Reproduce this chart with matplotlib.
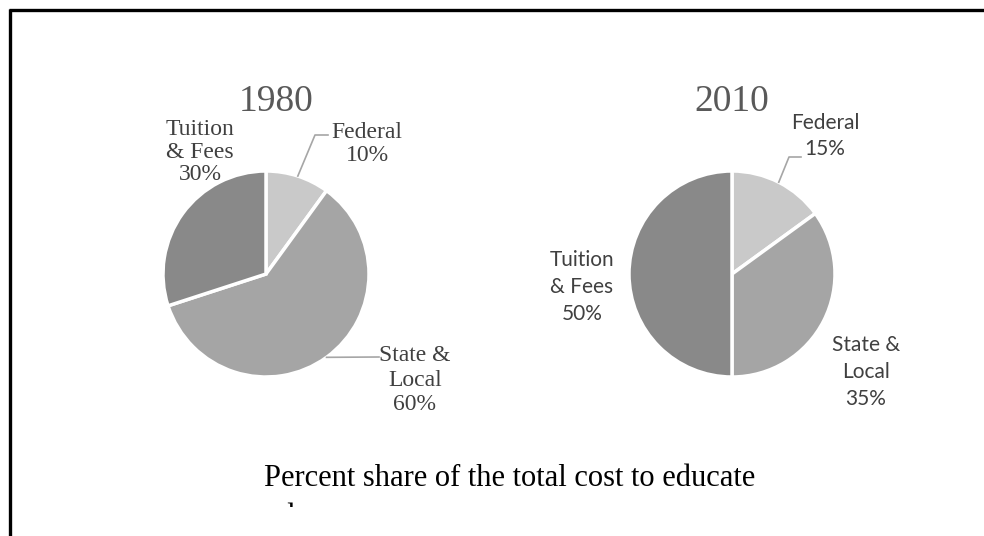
import matplotlib
matplotlib.use("Agg")
import matplotlib.pyplot as plt
import numpy as np
from matplotlib.transforms import Bbox, TransformedBbox

W, H = 984, 536

# ---- data -------------------------------------------------------------
years = ["1980", "2010"]
categories = ["Federal", "State &\nLocal", "Tuition\n& Fees"]
shares_1980 = [10, 60, 30]
shares_2010 = [15, 35, 50]
slice_colors = ["#c9c9c9", "#a5a5a5", "#898989"]
caption = "Percent share of the total cost to educate"
caption_line2 = "students"

fig = plt.figure(figsize=(W / 100, H / 100), dpi=100)
ax = fig.add_axes([0, 0, 1, 1])


def py(y):
    """Convert a top-down pixel row into the axes' bottom-up coordinate."""
    return H - y


# frame (only the top and left edges fall inside the canvas)
ax.plot([9, W + 5], [py(10), py(10)], color="black", lw=2.4, solid_capstyle="butt")
ax.plot([10, 10], [py(9), -5], color="black", lw=2.4, solid_capstyle="butt")

R = 103
centers = [(266, 274), (732, 274)]
all_shares = [shares_1980, shares_2010]

for (cx, cy), shares in zip(centers, all_shares):
    ax.pie(shares, startangle=90, counterclock=False, center=(cx, py(cy)),
           radius=R, colors=slice_colors,
           wedgeprops=dict(edgecolor="white", linewidth=2.5))


def mid_edge(cx, cy, shares, i):
    """Point on the rim at the middle of slice i (pixel rows, top-down)."""
    before = sum(shares[:i])
    ang = np.deg2rad(90 - 3.6 * (before + shares[i] / 2))
    return cx + R * np.cos(ang), cy - R * np.sin(ang)


leader_col = "#a6a6a6"
serif = ["Liberation Serif", "DejaVu Serif"]
sans = ["Lato", "DejaVu Sans"]
lab_col = "#404040"

ax.text(276, py(102), years[0], ha="center", va="center", fontsize=27,
        family=serif, color="#595959")
ax.text(732, py(102), years[1], ha="center", va="center", fontsize=27,
        family=serif, color="#595959")

# ---- 1980 (serif labels) ---------------------------------------------
cx, cy = centers[0]
fx, fy = mid_edge(cx, cy, shares_1980, 0)
ax.plot([fx, 315, 328], [py(fy), py(135), py(135)], color=leader_col, lw=1.2)
ax.text(367, py(144), f"{categories[0]}\n{shares_1980[0]}%", ha="center",
        va="center", fontsize=17, family=serif, color=lab_col, linespacing=1.1)

sx, sy = mid_edge(cx, cy, shares_1980, 1)
ax.plot([sx, 379], [py(sy), py(357)], color=leader_col, lw=1.2)
ax.text(415, py(380), f"{categories[1]}\n{shares_1980[1]}%", ha="center",
        va="center", fontsize=17, family=serif, color=lab_col, linespacing=1.2)

ax.text(200, py(152), f"{categories[2]}\n{shares_1980[2]}%", ha="center",
        va="center", fontsize=17, family=serif, color=lab_col, linespacing=1.1)

# ---- 2010 (sans labels) ------------------------------------------------
cx, cy = centers[1]
fx, fy = mid_edge(cx, cy, shares_2010, 0)
ax.plot([fx, 789, 801], [py(fy), py(157), py(157)], color=leader_col, lw=1.2)
ax.text(825, py(136), f"{categories[0]}\n{shares_2010[0]}%", ha="center",
        va="center", fontsize=15, family=sans, color=lab_col, linespacing=1.35)

ax.text(866, py(372), f"{categories[1]}\n{shares_2010[1]}%", ha="center",
        va="center", fontsize=15, family=sans, color=lab_col, linespacing=1.45)

ax.text(582, py(287), f"{categories[2]}\n{shares_2010[2]}%", ha="center",
        va="center", fontsize=15, family=sans, color=lab_col, linespacing=1.45)

# ---- caption (second line is cut off by its text box) -------------------
ax.text(510, py(486), caption, ha="center", va="baseline", fontsize=22,
        family=serif, color="black")
t2 = ax.text(245, py(525), caption_line2, ha="left", va="baseline",
             fontsize=22, family=serif, color="black")
t2.set_clip_box(TransformedBbox(Bbox([[0, py(507)], [W, H]]), ax.transData))
t2.set_clip_on(True)

ax.set_xlim(0, W)
ax.set_ylim(0, H)
ax.set_aspect("auto")
ax.axis("off")

fig.savefig("out.png", dpi=100, facecolor="white")
